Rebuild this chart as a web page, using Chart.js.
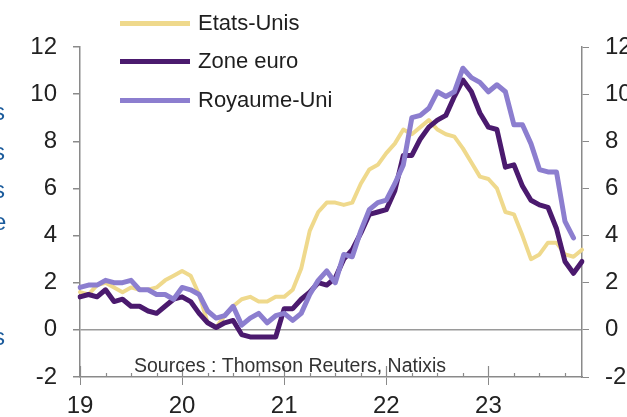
<!DOCTYPE html>
<html>
<head>
<meta charset="utf-8">
<script src="https://cdn.jsdelivr.net/npm/chart.js@4.4.1/dist/chart.umd.min.js"></script>
<style>
  html, body { margin: 0; padding: 0; background: #fff; }
  body { width: 627px; height: 417px; overflow: hidden; position: relative; font-family: Arial, "Liberation Sans", sans-serif; }
  #wrap { position: absolute; left: 0; top: 0; width: 627px; height: 417px; }
  .item { position: absolute; left: 120px; height: 26px; display: flex; align-items: center; white-space: nowrap; font-size: 22px; color: #1e1e1e; }
  .item i { display: block; width: 70px; height: 5px; margin-right: 8px; }
  .frag { position: absolute; left: -7px; color: #1c5c9c; font-size: 24px; line-height: 24px; }
</style>
</head>
<body>
<div id="wrap"><canvas id="inflation"></canvas></div>

<div class="frag" style="top:100px">s</div>
<div class="frag" style="top:140px">s</div>
<div class="frag" style="top:178px">s</div>
<div class="frag" style="top:210px">e</div>
<div class="frag" style="top:325px">s</div>

<div class="item" style="top:10px"><i style="background:#efd98c"></i>Etats-Unis</div>
<div class="item" style="top:48px"><i style="background:#4b1a6e"></i>Zone euro</div>
<div class="item" style="top:87px"><i style="background:#8c7ecf"></i>Royaume-Uni</div>

<script>
// inflation sur un an, en %
const years = ['19', '20', '21', '22', '23'];
const months = ['01', '02', '03', '04', '05', '06', '07', '08', '09', '10', '11', '12'];
const categories = [];
years.forEach(y => months.forEach(m => categories.push(m + '/' + y)));

const etatsUnis = [
  1.6, 1.5, 1.9, 2.0, 1.8, 1.6, 1.8, 1.7, 1.7, 1.8, 2.1, 2.3,
  2.5, 2.3, 1.5, 0.3, 0.1, 0.6, 1.0, 1.3, 1.4, 1.2, 1.2, 1.4,
  1.4, 1.7, 2.6, 4.2, 5.0, 5.4, 5.4, 5.3, 5.4, 6.2, 6.8, 7.0,
  7.5, 7.9, 8.5, 8.3, 8.6, 8.9, 8.5, 8.3, 8.2, 7.7, 7.1, 6.5,
  6.4, 6.0, 5.0, 4.9, 4.0, 3.0, 3.2, 3.7, 3.7, 3.2, 3.1, 3.4
];
const zoneEuro = [
  1.4, 1.5, 1.4, 1.7, 1.2, 1.3, 1.0, 1.0, 0.8, 0.7, 1.0, 1.3,
  1.4, 1.2, 0.7, 0.3, 0.1, 0.3, 0.4, -0.2, -0.3, -0.3, -0.3, -0.3,
  0.9, 0.9, 1.3, 1.6, 2.0, 1.9, 2.2, 3.0, 3.4, 4.1, 4.9, 5.0,
  5.1, 5.9, 7.4, 7.4, 8.1, 8.6, 8.9, 9.1, 9.9, 10.6, 10.1, 9.2,
  8.6, 8.5, 6.9, 7.0, 6.1, 5.5, 5.3, 5.2, 4.3, 2.9, 2.4, 2.9
];
const royaumeUni = [
  1.8, 1.9, 1.9, 2.1, 2.0, 2.0, 2.1, 1.7, 1.7, 1.5, 1.5, 1.3,
  1.8, 1.7, 1.5, 0.8, 0.5, 0.6, 1.0, 0.2, 0.5, 0.7, 0.3, 0.6,
  0.7, 0.4, 0.7, 1.5, 2.1, 2.5, 2.0, 3.2, 3.1, 4.2, 5.1, 5.4,
  5.5, 6.2, 7.0, 9.0, 9.1, 9.4, 10.1, 9.9, 10.1, 11.1, 10.7, 10.5,
  10.1, 10.4, 10.1, 8.7, 8.7, 7.9, 6.8, 6.7, 6.7, 4.6, 3.9, null
];
const yTicks = [-2, 0, 2, 4, 6, 8, 10, 12];
const sourceText = 'Sources : Thomson Reuters, Natixis';

const axisGrey = '#8a8a8a';
const tickFont = { family: 'Arial, "Liberation Sans", sans-serif', size: 24 };

// ticks of the x axis that cross it (years) and the small quarter ones, plus the source line
const extras = {
  id: 'extras',
  afterDraw(chart) {
    const ctx = chart.ctx;
    const x = chart.scales.x;
    const bottom = chart.chartArea.bottom;
    ctx.save();
    ctx.strokeStyle = axisGrey;
    ctx.lineWidth = 1.2;
    categories.forEach((c, i) => {
      const px = Math.round(x.getPixelForValue(i)) + 0.5;
      if (i % 12 === 0) {
        ctx.beginPath(); ctx.moveTo(px, bottom - 11); ctx.lineTo(px, bottom); ctx.stroke();
      } else if (i % 3 === 0) {
        ctx.beginPath(); ctx.moveTo(px, bottom - 4); ctx.lineTo(px, bottom); ctx.stroke();
      }
    });
    ctx.fillStyle = '#333';
    ctx.font = '19.5px Arial, "Liberation Sans", sans-serif';
    ctx.textAlign = 'center';
    ctx.textBaseline = 'middle';
    ctx.fillText(sourceText, 290, 367);
    ctx.restore();
  }
};

window.addEventListener('load', () => {
  const ctx = document.getElementById('inflation');
  new Chart(ctx, {
    type: 'line',
    data: {
      labels: categories,
      datasets: [
        { label: 'Etats-Unis', data: etatsUnis, borderColor: '#efd98c', borderWidth: 4, order: 3 },
        { label: 'Zone euro', data: zoneEuro, borderColor: '#4b1a6e', borderWidth: 5, order: 2 },
        { label: 'Royaume-Uni', data: royaumeUni, borderColor: '#8c7ecf', borderWidth: 5, order: 1 }
      ]
    },
    options: {
      responsive: false,
      animation: false,
      devicePixelRatio: 1,
      elements: { point: { radius: 0 }, line: { tension: 0, borderJoinStyle: 'round', borderCapStyle: 'round' } },
      layout: { padding: { top: 47, left: 0, right: 0, bottom: 0 } },
      plugins: { legend: { display: false }, tooltip: { enabled: false } },
      scales: {
        x: {
          offset: false,
          border: { display: true, color: axisGrey, width: 1.5 },
          grid: {
            drawOnChartArea: false,
            tickLength: 8,
            color: (c) => (c.index % 12 === 0 ? axisGrey : 'rgba(0,0,0,0)')
          },
          ticks: {
            autoSkip: false,
            maxRotation: 0,
            padding: 7,
            color: '#222',
            font: tickFont,
            callback: (v, i) => (i % 12 === 0 ? years[i / 12] : '')
          },
          afterFit: (s) => { s.height = 40; }
        },
        y: {
          position: 'left',
          min: -2,
          max: 12,
          afterBuildTicks: (s) => { s.ticks = yTicks.map(v => ({ value: v })); },
          border: { display: true, color: axisGrey, width: 1.5 },
          grid: {
            lineWidth: 1.5,
            tickLength: 7,
            tickColor: axisGrey,
            color: (c) => (c.tick && c.tick.value === 0 ? '#9a9a9a' : 'rgba(0,0,0,0)')
          },
          ticks: { padding: 16, color: '#222', font: tickFont },
          afterFit: (s) => { s.width = 80; }
        },
        y2: {
          position: 'right',
          min: -2,
          max: 12,
          afterBuildTicks: (s) => { s.ticks = yTicks.map(v => ({ value: v })); },
          border: { display: true, color: axisGrey, width: 1.5 },
          grid: { drawOnChartArea: false, tickLength: 7, color: axisGrey },
          ticks: { padding: 16, color: '#222', font: tickFont },
          afterFit: (s) => { s.width = 45; }
        }
      }
    },
    plugins: [extras]
  });
});
</script>
<script>
document.getElementById('inflation').width = 627;
document.getElementById('inflation').height = 417;
</script>
</body>
</html>
